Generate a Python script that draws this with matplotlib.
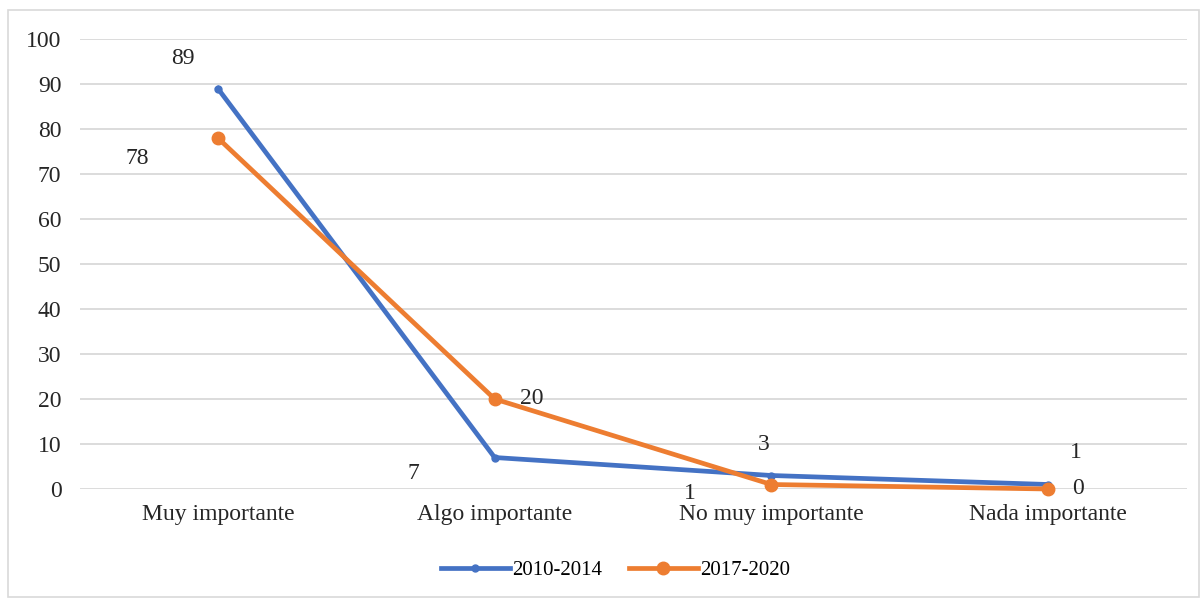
import matplotlib.pyplot as plt
from matplotlib.patches import Rectangle

categories = ["Muy importante", "Algo importante", "No muy importante", "Nada importante"]
serie_2010 = [89, 7, 3, 1]
serie_2017 = [78, 20, 1, 0]
yticks = list(range(0, 101, 10))

# label offsets in pixels (dx, dy) relative to each point
off_2010 = [(-35, 30), (-81, -16), (-8, 31), (28, 32)]
off_2017 = [(-81, -20), (37, 0), (-82, -9), (30, 0)]

plt.rcParams['font.family'] = ['Liberation Serif', 'DejaVu Serif']

fig = plt.figure(figsize=(12.03, 5.99), dpi=100)
fig.patches.append(Rectangle((8/1203, 2/599), 1191/1203, 587/599, transform=fig.transFigure,
                             fill=False, edgecolor='#D9D9D9', linewidth=1.2))
ax = fig.add_axes([79.5/1203, 1 - 489/599, 1107/1203, 450/599])

x = range(len(categories))
ax.plot(x, serie_2010, color='#4472C4', lw=3.4, marker='o', markersize=5, label='2010-2014',
        zorder=3, clip_on=False)
ax.plot(x, serie_2017, color='#ED7D31', lw=3.4, marker='o', markersize=9, label='2017-2020',
        zorder=4, clip_on=False)

for i, v in enumerate(serie_2010):
    ax.annotate(str(v), (i, v), xytext=off_2010[i], textcoords='offset pixels',
                ha='center', va='center', fontsize=17, color='#262626')
for i, v in enumerate(serie_2017):
    ax.annotate(str(v), (i, v), xytext=off_2017[i], textcoords='offset pixels',
                ha='center', va='center', fontsize=17, color='#262626')

ax.set_xlim(-0.5, len(categories) - 0.5)
ax.set_ylim(0, 100)
ax.set_yticks(yticks)
ax.set_xticks(list(x))
ax.set_xticklabels(categories)
ax.tick_params(axis='both', length=0, labelsize=17, colors='#262626')
ax.tick_params(axis='y', pad=13)
ax.tick_params(axis='x', pad=11)
ax.grid(axis='y', color='#D9D9D9', lw=1.3)
ax.set_axisbelow(True)
for s in ax.spines.values():
    s.set_visible(False)

ax.legend(loc='center', bbox_to_anchor=(0.484, (1 - 570/599 - (1 - 489/599)) / (450/599)),
          ncol=2, frameon=False, fontsize=15, handlelength=3.3, handletextpad=0.1,
          columnspacing=1.3)

plt.savefig('out.png', dpi=100)
